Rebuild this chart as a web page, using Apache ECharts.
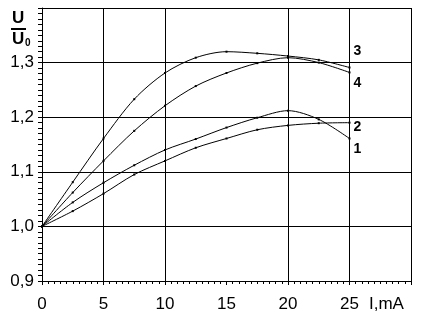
<!DOCTYPE html>
<html>
<head>
<meta charset="utf-8">
<script src="https://cdn.jsdelivr.net/npm/echarts@6/dist/echarts.min.js"></script>
<style>
  html, body { margin: 0; padding: 0; background: #fff; }
  #chart { width: 431px; height: 326px; }
</style>
</head>
<body>
<div id="chart"></div>
<script>
// current, mA
var currents = [0, 2.5, 5, 7.5, 10, 12.5, 15, 17.5, 20, 22.5, 25];
// U/U0 for each curve
var curve1 = [1.0, 1.044, 1.080, 1.112, 1.140, 1.160, 1.181, 1.199, 1.212, 1.196, 1.161];
var curve2 = [1.0, 1.028, 1.060, 1.095, 1.120, 1.144, 1.161, 1.177, 1.185, 1.189, 1.190];
var curve3 = [1.0, 1.081, 1.161, 1.233, 1.281, 1.309, 1.320, 1.317, 1.312, 1.305, 1.291];
var curve4 = [1.0, 1.062, 1.120, 1.175, 1.221, 1.257, 1.281, 1.299, 1.309, 1.300, 1.282];
// vertical grid lines (no line at 15 in the original)
var gridX = [5, 10, 20, 25, 30];

var font = 'Liberation Sans, Arial, sans-serif';

function pairs(ys) {
  return currents.map(function (x, i) { return [x, ys[i]]; });
}

function makeSeries(name, ys, offset) {
  return {
    name: name,
    type: 'line',
    data: pairs(ys),
    smooth: 0.3,
    symbol: 'rect',
    symbolSize: 2,
    lineStyle: { color: '#000', width: 1 },
    itemStyle: { color: '#000' },
    endLabel: {
      show: true,
      formatter: name,
      distance: 0,
      offset: offset,
      color: '#000',
      fontWeight: 'bold',
      fontSize: 14,
      fontFamily: font
    },
    emphasis: { disabled: true },
    z: 3
  };
}

var chart = echarts.init(document.getElementById('chart'));

var series = [
  makeSeries('1', curve1, [4, 11]),
  makeSeries('2', curve2, [4, 4]),
  makeSeries('3', curve3, [4, -16]),
  makeSeries('4', curve4, [4, 11])
];

// the vertical grid lines
series.push({
  type: 'line',
  data: [],
  silent: true,
  markLine: {
    silent: true,
    symbol: ['none', 'none'],
    label: { show: false },
    lineStyle: { color: '#000', width: 1, type: 'solid' },
    data: gridX.map(function (v) { return { xAxis: v }; })
  }
});

chart.setOption({
  backgroundColor: '#fff',
  animation: false,
  grid: { left: 42, right: 20, top: 8, bottom: 45, containLabel: false },
  xAxis: {
    type: 'value',
    min: 0,
    max: 30,
    interval: 5,
    axisLine: { lineStyle: { color: '#000', width: 1 } },
    axisTick: { show: true, inside: false, length: 4, lineStyle: { color: '#000' } },
    minorTick: { show: true, splitNumber: 10, length: 3, lineStyle: { color: '#000' } },
    splitLine: { show: false },
    axisLabel: {
      color: '#000',
      fontSize: 17,
      fontFamily: font,
      margin: 15,
      formatter: function (v) { return v >= 30 ? '' : String(v); }
    }
  },
  yAxis: {
    type: 'value',
    min: 0.9,
    max: 1.4,
    interval: 0.1,
    axisLine: { show: true, lineStyle: { color: '#000', width: 1 } },
    axisTick: { show: true, inside: false, length: 4, lineStyle: { color: '#000' } },
    minorTick: { show: true, splitNumber: 10, length: 4, lineStyle: { color: '#000' } },
    splitLine: { show: true, lineStyle: { color: '#000', width: 1 } },
    axisLabel: {
      color: '#000',
      fontSize: 17,
      fontFamily: font,
      margin: 8,
      formatter: function (v) {
        if (v > 1.35) return '';
        return v.toFixed(1).replace('.', ',');
      }
    }
  },
  graphic: [
    { type: 'text', left: 369, top: 296, style: { text: 'I,mA', fill: '#000', fontSize: 17, fontFamily: font } },
    { type: 'text', left: 12, top: 10, style: { text: 'U', fill: '#000', fontSize: 17, fontWeight: 'bold', fontFamily: font } },
    { type: 'rect', shape: { x: 11, y: 28, width: 15, height: 2 }, style: { fill: '#000' } },
    { type: 'text', left: 12, top: 31, style: { text: 'U', fill: '#000', fontSize: 17, fontWeight: 'bold', fontFamily: font } },
    { type: 'text', left: 25, top: 38, style: { text: '0', fill: '#000', fontSize: 10, fontWeight: 'bold', fontFamily: font } }
  ],
  series: series
});
</script>
</body>
</html>
